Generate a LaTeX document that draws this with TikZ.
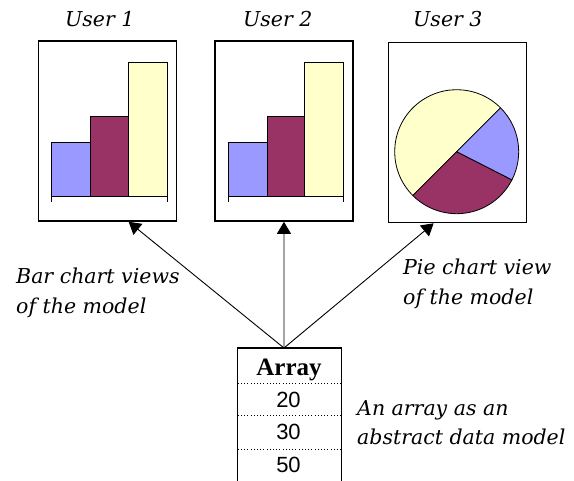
\documentclass[tikz,border=0pt]{standalone}
\usepackage{fontspec}
\setmainfont{Liberation Serif}
\newfontfamily\labfont{DejaVu Serif}
\newfontfamily\numfont{Liberation Sans}
\usetikzlibrary{arrows.meta}
\definecolor{barblue}{RGB}{153,153,255}
\definecolor{barmaroon}{RGB}{153,51,102}
\definecolor{baryellow}{RGB}{255,255,204}
\begin{document}
\begin{tikzpicture}[x=1pt,y=-1pt,
  viewbox/.style={draw, line width=1.3pt, minimum width=138pt, minimum height=180pt, inner sep=0pt, anchor=north west},
  barpart/.style={draw, line width=0.8pt},
  lab/.style={font=\labfont\itshape\fontsize{20.5}{24}\selectfont, inner sep=0pt, anchor=base west},
  arr/.style={line width=0.9pt, -{Triangle[length=12pt,width=14pt]}},
  num/.style={font=\numfont\fontsize{22}{26}\selectfont, inner sep=0pt, anchor=base},
  dotline/.style={line width=1pt, dash pattern=on 1pt off 2.2pt}]
\useasboundingbox (0,0) rectangle (574,481);

% view boxes
\node[viewbox] (box1) at (38,40.5) {};
\node[viewbox] (box2) at (214.3,40.5) {};
\node[viewbox] (box3) at (388,42) {};

% bar charts
\foreach \dx in {0,176.5}{
  \begin{scope}[xshift=\dx pt]
    \filldraw[barpart, fill=barblue]   (51.7,196.7) rectangle (90.7,142.3);
    \filldraw[barpart, fill=barmaroon] (90.7,196.7) rectangle (128,116.7);
    \filldraw[barpart, fill=baryellow] (128,196.7) rectangle (167,62.3);
    \draw[line width=0.9pt] (51.7,201.7) -- (51.7,196.7) -- (167,196.7) -- (167,201.7);
  \end{scope}
}

% pie chart
\begin{scope}[shift={(456.7,151.7)}]
  \filldraw[barpart, fill=baryellow] (0,0) -- (-45:62) arc[start angle=-45, end angle=-225, radius=62] -- cycle;
  \filldraw[barpart, fill=barmaroon] (0,0) -- (-225:62) arc[start angle=-225, end angle=-333, radius=62] -- cycle;
  \filldraw[barpart, fill=barblue] (0,0) -- (-333:62) arc[start angle=-333, end angle=-405, radius=62] -- cycle;
\end{scope}

% titles
\node[lab] (t1) at (65,27) {User 1};
\node[lab] (t2) at (243,27) {User 2};
\node[lab] (t3) at (413,27) {User 3};

% array
\node[minimum width=103pt, minimum height=133pt, inner sep=0pt, anchor=north] (arraybox) at (289.5,348) {};
\draw[line width=1.3pt] (arraybox.south west) -- (arraybox.north west) -- (arraybox.north east) -- (arraybox.south east);
\node[font=\bfseries\fontsize{25}{28}\selectfont, inner sep=0pt, anchor=base] (arrtitle) at (289,376) {Array};
\foreach \y in {35.3,68,101.3}{
  \draw[dotline] ([yshift=-\y pt]arraybox.north west) -- ([yshift=-\y pt]arraybox.north east);
}
\node[num] (n20) at (288.5,408) {20};
\node[num] (n30) at (288.5,440) {30};
\node[num] (n50) at (288.5,473) {50};

% arrows
\coordinate (hub) at ([xshift=-5.5pt]arraybox.north);
\draw[arr] (hub) -- ([xshift=21pt]box1.south);
\draw[arr] (hub) -- (box2.south);
\draw[arr] (hub) -- ([xshift=-24pt]box3.south);

% labels
\node[lab] (l1a) at (16,283.3) {Bar chart views};
\node[lab] (l1b) at (16,313.3) {of the model};
\node[lab] (l2a) at (403,275) {Pie chart view};
\node[lab] (l2b) at (403,305) {of the model};
\node[lab] (l3a) at (357,416) {An array as an};
\node[lab] (l3b) at (357,445) {abstract data model};
\end{tikzpicture}
\end{document}
